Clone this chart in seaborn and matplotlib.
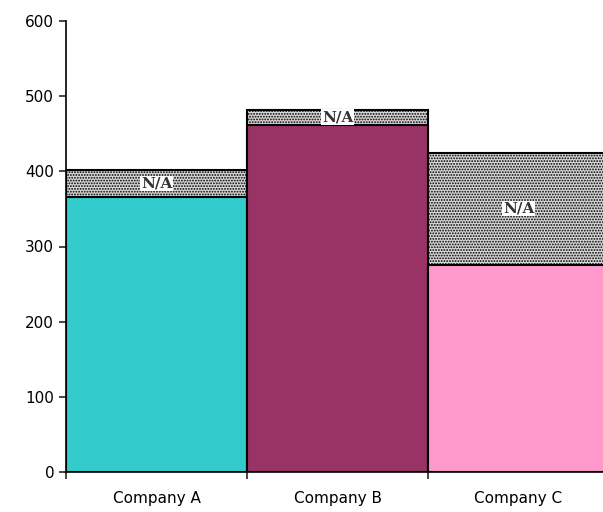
import matplotlib
matplotlib.use("Agg")
import matplotlib.pyplot as plt
import seaborn as sns
import pandas as pd

companies = ["Company A", "Company B", "Company C"]
known = [366, 462, 276]
na_top = [402, 482, 425]
colors = ["#33CCCC", "#993366", "#FF99CC"]

sns.set_style("white")
plt.rcParams["font.family"] = ["DejaVu Sans"]
plt.rcParams["hatch.color"] = "black"
plt.rcParams["hatch.linewidth"] = 0.9

df = pd.DataFrame({"company": companies, "known": known, "total": na_top})

fig = plt.figure(figsize=(6.03, 5.12), dpi=100)
ax = fig.add_axes([66 / 603, 1 - 472 / 512, (609 - 66) / 603, (472 - 21) / 512])

# N/A part: full height, dotted, then the known part drawn over it
sns.barplot(data=df, x="company", y="total", width=1.0, color="#d8d8d8", saturation=1,
            edgecolor="black", linewidth=1.5, hatch="......", ax=ax)
sns.barplot(data=df, x="company", y="known", hue="company", palette=colors, saturation=1,
            width=1.0, edgecolor="black", linewidth=1.5, legend=False, ax=ax)

for i, (k, t) in enumerate(zip(known, na_top)):
    ax.text(i, (k + t) / 2, "N/A", ha="center", va="center", family="DejaVu Serif",
            fontweight="bold", fontsize=11, color="#333333",
            bbox=dict(facecolor="white", edgecolor="none", pad=0.5))

ax.set_xlim(-0.5, 2.5)
ax.set_ylim(0, 600)
ax.set_yticks(range(0, 601, 100))
ax.set_xticks([0, 1, 2])
ax.set_xticks([-0.5, 0.5, 1.5, 2.5], minor=True)
ax.tick_params(axis="x", which="major", length=0, pad=14, labelsize=11, labelcolor="black")
ax.tick_params(axis="x", which="minor", length=5, width=1.2, direction="out", bottom=True)
ax.tick_params(axis="y", length=5, width=1.2, direction="out", left=True, labelsize=11,
               labelcolor="black")
ax.set_xlabel("")
ax.set_ylabel("")
for s in ["top", "right"]:
    ax.spines[s].set_visible(False)
for s in ["left", "bottom"]:
    ax.spines[s].set_color("black")
    ax.spines[s].set_linewidth(1.2)

fig.savefig("out.png", dpi=100)
